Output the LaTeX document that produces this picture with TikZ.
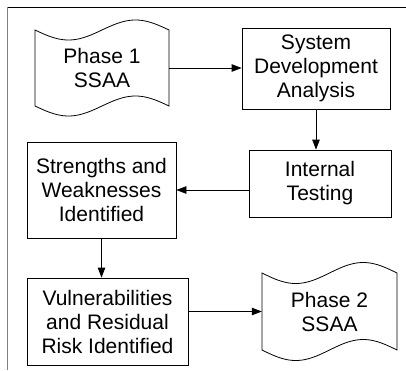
\documentclass[tikz,border=0pt]{standalone}
\usepackage{fontspec}
\setmainfont{Liberation Sans}
\usetikzlibrary{arrows.meta}
\newcommand\tapeoutline[5]{%
  \draw[outline] plot[domain=0:1,samples=61,variable=\t] ({#1+(#2-#1)*\t},{#3+#5*sin(360*\t)})
    -- plot[domain=1:0,samples=61,variable=\t] ({#1+(#2-#1)*\t},{#4+#5*sin(360*\t)}) -- cycle;}
\tikzset{
  outline/.style={draw=black, line width=0.8pt, line join=miter},
  box/.style={outline, rectangle, inner sep=0pt, align=center, font=\fontsize{21}{24}\selectfont},
  doc/.style={rectangle, draw=none, inner sep=0pt, align=center, font=\fontsize{21}{24}\selectfont},
  flow/.style={draw=black, line width=0.8pt, -{Triangle[length=10pt,width=7.5pt]}},
}
\begin{document}
\begin{tikzpicture}[x=1pt,y=-1pt]
\useasboundingbox (0,0) rectangle (406,370);
\draw[black, line width=0.8pt] (7,7) -- (406,7);
\draw[gray, line width=0.8pt] (7,7) -- (7,370);

\tapeoutline{35}{169}{30}{106}{10}
\node[doc, minimum width=134pt, minimum height=76pt] (p1) at (102,68) {Phase 1\\SSAA};
\node[box, minimum width=148pt, minimum height=81pt] (sda) at (316,68.5) {System\\Development\\Analysis};
\node[box, minimum width=142pt, minimum height=67pt] (it) at (320,183.5) {Internal\\Testing};
\node[box, minimum width=149pt, minimum height=96pt] (sw) at (101.5,190) {Strengths and\\Weaknesses\\Identified};
\node[box, minimum width=161pt, minimum height=87pt] (vr) at (107.5,321.5) {Vulnerabilities\\and Residual\\Risk Identified};
\tapeoutline{262}{397}{273}{350}{10.5}
\node[doc, minimum width=135pt, minimum height=77pt] (p2) at (329.5,311.5) {Phase 2\\SSAA};

\draw[flow] (p1.east) -- (p1.east -| sda.west);
\draw[flow] (sda.south) -- (sda.south |- it.north);
\draw[flow] (it.west |- sw.east) -- (sw.east);
\draw[flow] (sw.south) -- (sw.south |- vr.north);
\draw[flow] (p2.west -| vr.east) -- (p2.west);
\end{tikzpicture}
\end{document}
